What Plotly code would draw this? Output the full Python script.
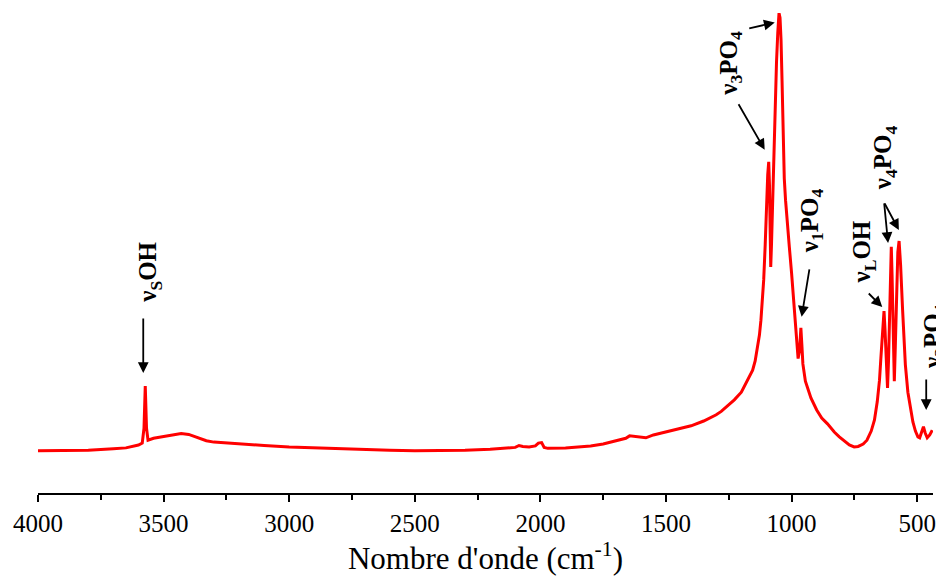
import plotly.graph_objects as go

# FTIR spectrum (wavenumber in cm-1, absorbance in arbitrary units)
wavenumber = [
    4000, 3900, 3800, 3700, 3650, 3600, 3585, 3578, 3573, 3568, 3562, 3540, 3500, 3460,
    3430, 3400, 3370, 3330, 3300, 3200, 3100, 3000, 2900, 2800, 2700, 2600, 2500, 2400,
    2300, 2200, 2150, 2100, 2085, 2070, 2045, 2020, 2008, 1995, 1985, 1970, 1900, 1800,
    1750, 1700, 1660, 1645, 1630, 1600, 1580, 1550, 1500, 1450, 1400, 1350, 1300, 1280,
    1250, 1228, 1200, 1188, 1170, 1155, 1145, 1135, 1128, 1122, 1116, 1111, 1105, 1100,
    1095, 1091, 1088, 1085, 1083, 1080, 1075, 1070, 1065, 1060, 1055, 1050, 1046, 1042,
    1038, 1034, 1029, 1024, 1018, 1009, 1000, 989, 980, 974, 968, 963, 959, 955,
    945, 935, 923, 900, 880, 857, 830, 810, 791, 770, 751, 735, 715, 700,
    683, 670, 659, 650, 645, 640, 635, 632, 628, 622, 618, 614, 610, 606,
    603, 600, 596, 591, 587, 582, 577, 572, 566, 558, 547, 537, 527, 517,
    507, 497, 490, 482, 475, 468, 460, 450, 440,
]
absorbance = [
    0.088, 0.088, 0.089, 0.092, 0.094, 0.100, 0.104, 0.135, 0.223, 0.135, 0.110, 0.114, 0.118, 0.122,
    0.124, 0.122, 0.117, 0.109, 0.106, 0.102, 0.099, 0.096, 0.094, 0.093, 0.091, 0.089, 0.088, 0.088,
    0.089, 0.091, 0.093, 0.095, 0.099, 0.097, 0.096, 0.098, 0.104, 0.105, 0.095, 0.093, 0.094, 0.098,
    0.102, 0.108, 0.114, 0.119, 0.118, 0.115, 0.115, 0.121, 0.127, 0.133, 0.140, 0.150, 0.163, 0.170,
    0.183, 0.194, 0.210, 0.222, 0.240, 0.256, 0.275, 0.304, 0.329, 0.360, 0.402, 0.444, 0.517, 0.600,
    0.663, 0.690, 0.642, 0.538, 0.471, 0.517, 0.621, 0.725, 0.819, 0.898, 0.958, 1.000, 0.990, 0.944,
    0.860, 0.760, 0.655, 0.610, 0.565, 0.513, 0.458, 0.388, 0.330, 0.280, 0.298, 0.344, 0.308, 0.269,
    0.233, 0.215, 0.198, 0.173, 0.156, 0.144, 0.127, 0.117, 0.108, 0.100, 0.096, 0.097, 0.102, 0.110,
    0.129, 0.152, 0.190, 0.235, 0.277, 0.323, 0.369, 0.379, 0.340, 0.256, 0.219, 0.277, 0.381, 0.475,
    0.513, 0.454, 0.319, 0.233, 0.306, 0.423, 0.502, 0.525, 0.475, 0.381, 0.267, 0.210, 0.179, 0.148,
    0.129, 0.117, 0.115, 0.127, 0.138, 0.125, 0.115, 0.121, 0.131,
]

x_ticks = [4000, 3500, 3000, 2500, 2000, 1500, 1000, 500]
x_title = "Nombre d'onde (cm<sup>-1</sup>)"

# band labels: text, x (cm-1), y (a.u.)
label_texts = ["ν<sub>S</sub>OH", "ν<sub>3</sub>PO<sub>4</sub>", "ν<sub>1</sub>PO<sub>4</sub>",
               "ν<sub>L</sub>OH", "ν<sub>4</sub>PO<sub>4</sub>"]
label_x = [3556, 1242, 921, 714, 627]
label_y = [0.46, 0.896, 0.567, 0.502, 0.698]
# last label sits at the right edge of the figure (partly cut off)
edge_label_text = "ν<sub>2</sub>PO<sub>4</sub>"
edge_label_y = 0.327

# arrows: tip (cm-1, a.u.) and tail offset in pixels
arrow_x = [3581, 1067, 1107, 960, 639, 616, 573, 464]
arrow_y = [0.25, 0.98, 0.715, 0.367, 0.3875, 0.521, 0.548, 0.173]
arrow_ax = [0, -27, -27, 8, -15, -4, -15, 0]
arrow_ay = [-56, 6, -47, -49, -15, -41, -28, -32]

label_font = dict(family="Liberation Serif", size=25, color="black", weight="bold")

fig = go.Figure()
fig.add_trace(go.Scatter(
    x=wavenumber, y=absorbance, mode="lines",
    line=dict(color="#ff0000", width=3), showlegend=False, hoverinfo="skip",
))

annotations = []
for t, x, y in zip(label_texts, label_x, label_y):
    annotations.append(dict(
        x=x, y=y, xref="x", yref="y", text=t, showarrow=False, textangle=-90,
        font=label_font, xanchor="center", yanchor="middle",
    ))
annotations.append(dict(
    x=1.001, y=edge_label_y, xref="paper", yref="y", text=edge_label_text,
    showarrow=False, textangle=-90, font=label_font, xanchor="center", yanchor="middle",
))
for x, y, ax, ay in zip(arrow_x, arrow_y, arrow_ax, arrow_ay):
    annotations.append(dict(
        x=x, y=y, xref="x", yref="y", text="", showarrow=True,
        ax=ax, ay=ay, axref="pixel", ayref="pixel",
        arrowhead=2, arrowsize=1.2, arrowwidth=1.8, arrowcolor="black",
    ))

fig.update_layout(
    width=936, height=576,
    margin=dict(l=38, r=0, t=13, b=83),
    paper_bgcolor="white", plot_bgcolor="white",
    font=dict(family="Liberation Serif", color="black"),
    annotations=annotations,
    xaxis=dict(
        range=[4000, 437], tickvals=x_ticks, ticklabeloverflow="allow",
        ticks="outside", ticklen=7, tickwidth=1.5, tickcolor="black",
        showline=True, linecolor="black", linewidth=1.5,
        showgrid=False, zeroline=False,
        tickfont=dict(family="Liberation Serif", size=25, color="black"),
        title=dict(text=x_title, font=dict(family="Liberation Serif", size=31, color="black"), standoff=6),
        minor=dict(dtick=250, ticks="outside", ticklen=5, tickwidth=1.5, tickcolor="black", showgrid=False),
    ),
    yaxis=dict(range=[0, 1.0], visible=False, showgrid=False, zeroline=False),
)

fig.write_html("out.html", config={"displayModeBar": False},
               post_script="document.body.style.margin='0';")
